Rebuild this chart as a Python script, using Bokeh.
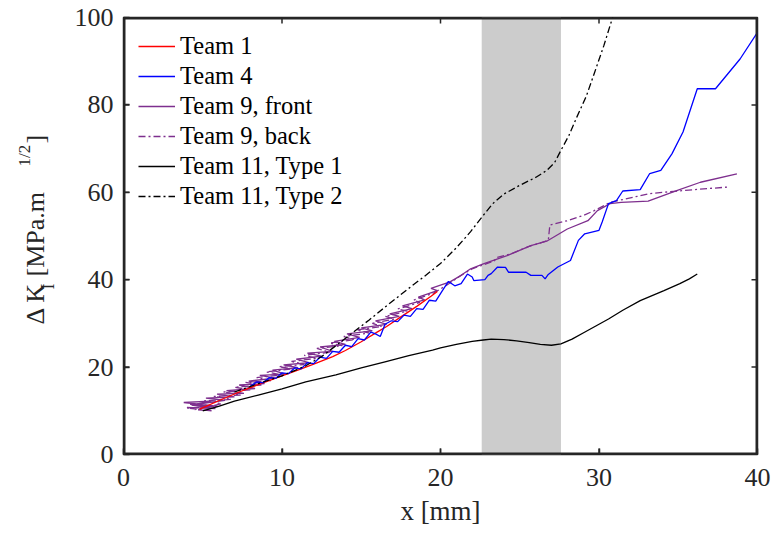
from bokeh.plotting import figure
from bokeh.layouts import row
from bokeh.models import Range1d, FixedTicker, Legend, LegendItem
from bokeh.core.properties import value
from bokeh.embed import file_html
from bokeh.resources import INLINE

# ---------------- data ----------------
x_ticks = [0, 10, 20, 30, 40]
y_ticks = [0, 20, 40, 60, 80, 100]
band_x = [22.6, 27.6]

team1_x = [4.8, 5.2, 6.0, 7.3, 8.5, 10.0, 11.0, 12.0, 13.2, 14.0, 15.0, 16.0, 16.6, 17.5, 18.5, 19.4, 19.8]
team1_y = [10.4, 11.0, 12.3, 14.3, 16.0, 18.0, 19.3, 20.7, 22.4, 23.8, 25.8, 28.0, 29.3, 31.5, 33.9, 36.2, 37.3]

team4_x = [8.0, 8.4, 8.8, 9.2, 9.6, 10.0, 10.4, 10.8, 11.2, 11.6, 12.0, 12.4, 12.8, 13.2, 13.6, 14.0,
           14.4, 14.8, 15.2, 15.6, 15.9, 16.2, 16.5, 16.9, 17.3, 17.7, 18.1, 18.5, 18.9, 19.3, 19.7,
           20.1, 20.5, 20.9, 21.3, 21.7, 22.0, 22.1, 22.8, 23.0, 23.2, 23.6, 24.1, 24.3, 25.4, 25.7,
           26.4, 26.6, 26.8, 27.4, 28.2, 28.7, 29.1, 30.0, 30.2, 30.6, 31.1, 31.5, 32.6, 33.2, 33.9,
           34.6, 35.3, 36.2, 37.35, 38.9, 40.0]
team4_y = [15.6, 16.6, 16.4, 17.6, 17.4, 18.7, 18.5, 19.8, 19.6, 21.0, 20.8, 22.3, 22.0, 23.6, 23.4, 25.0,
           24.7, 26.5, 26.2, 28.0, 27.6, 27.0, 29.8, 30.6, 30.4, 31.9, 31.6, 33.4, 33.2, 35.3, 35.1,
           37.4, 39.6, 38.6, 39.1, 41.3, 40.6, 39.8, 40.0, 41.0, 41.4, 42.9, 42.8, 41.7, 41.7, 41.0,
           41.0, 40.2, 41.2, 42.9, 44.4, 49.0, 50.5, 51.3, 53.2, 57.4, 58.1, 60.3, 60.6, 64.3, 65.0,
           68.8, 73.8, 83.7, 83.7, 90.5, 96.6]

team9f_x = [4.0, 5.8, 4.3, 6.0, 3.8, 5.5, 4.6, 6.4, 5.2, 7.0, 5.9, 7.6, 6.5, 8.3, 7.3, 8.9, 7.9, 9.6,
            8.6, 10.2, 9.4, 11.0, 10.1, 11.7, 10.9, 12.5, 11.6, 13.2, 12.4, 14.0, 13.3, 14.9, 14.1,
            15.7, 15.0, 16.6, 15.9, 17.4, 16.8, 18.2, 17.6, 19.0, 18.6, 19.8, 19.4, 20.6, 21.3, 21.9,
            22.7, 24.2, 25.7, 26.7, 28.0, 29.3, 29.9, 30.7, 31.4, 33.1, 34.9, 36.4, 38.7]
team9f_y = [10.8, 10.5, 11.3, 11.0, 11.9, 12.2, 11.5, 12.4, 12.9, 13.2, 13.8, 14.0, 14.6, 15.1, 15.9,
            16.2, 16.8, 17.5, 18.1, 18.4, 19.3, 19.9, 20.5, 21.0, 21.8, 22.5, 23.2, 23.6, 24.6, 25.2,
            25.9, 26.8, 27.6, 28.3, 29.0, 29.8, 30.6, 31.6, 32.2, 33.4, 34.0, 35.4, 36.0, 37.5, 38.0,
            39.5, 41.0, 42.5, 43.6, 45.5, 47.8, 48.8, 51.6, 53.5, 55.8, 57.4, 57.7, 58.0, 60.4, 62.3, 64.2]

team9b_x = [4.2, 5.9, 4.0, 5.6, 4.5, 6.2, 5.1, 6.8, 5.7, 7.4, 6.3, 8.0, 7.0, 8.7, 7.7, 9.3, 8.4, 10.0,
            9.0, 10.7, 9.8, 11.4, 10.6, 12.2, 11.4, 13.0, 12.2, 13.8, 13.0, 14.6, 13.9, 15.5, 14.7,
            16.3, 15.7, 17.1, 16.5, 17.9, 17.3, 18.7, 18.3, 19.6, 20.5, 21.3, 22.0, 23.4, 23.5, 24.5,
            25.5, 26.8, 26.9, 28.0, 29.0, 29.7, 30.7, 33.2, 35.3, 38.1]
team9b_y = [11.5, 11.0, 10.6, 10.0, 10.3, 11.6, 12.3, 12.6, 13.3, 13.6, 14.3, 14.8, 15.4, 15.9, 16.5,
            16.9, 17.6, 18.2, 18.9, 19.6, 20.1, 20.6, 21.3, 22.0, 22.7, 23.4, 24.3, 24.9, 25.5, 26.3,
            27.0, 27.8, 28.5, 29.3, 30.0, 31.0, 31.6, 32.8, 33.3, 34.8, 35.3, 37.0, 39.0, 41.0, 42.5,
            44.3, 45.0, 46.0, 47.5, 49.0, 52.5, 53.5, 54.7, 55.8, 57.7, 59.7, 60.4, 61.2]

team11a_x = [5.0, 6.0, 7.0, 8.5, 10.0, 11.5, 13.4, 15.0, 16.5, 18.0, 19.5, 20.0, 21.0, 22.0, 22.7, 23.2,
             24.0, 24.8, 25.6, 26.3, 27.0, 27.6, 28.3, 29.0, 29.8, 30.6, 31.5, 32.6, 33.5, 34.1, 35.1,
             35.7, 36.2]
team11a_y = [10.0, 11.0, 12.2, 13.6, 15.0, 16.6, 18.2, 19.8, 21.2, 22.6, 23.9, 24.4, 25.2, 25.9, 26.2,
             26.4, 26.3, 26.0, 25.6, 25.2, 25.0, 25.3, 26.4, 27.8, 29.4, 31.0, 33.0, 35.2, 36.6, 37.5,
             39.1, 40.2, 41.3]

team11b_x = [7.0, 8.5, 10.0, 11.5, 12.5, 13.4, 14.3, 15.5, 16.8, 18.2, 19.0, 20.0, 21.0, 21.9, 22.65,
             23.3, 24.0, 25.0, 26.0, 26.7, 27.2, 27.6, 28.1, 28.6, 29.2, 29.7, 30.3, 30.9]
team11b_y = [14.3, 16.2, 18.0, 20.3, 22.4, 24.9, 27.4, 30.8, 34.6, 38.6, 40.8, 43.7, 47.3, 51.0, 54.5,
             57.4, 59.6, 61.6, 63.4, 65.0, 66.8, 69.6, 73.0, 77.2, 82.0, 87.2, 93.5, 100.5]

series_names = ["Team 1", "Team 4", "Team 9, front", "Team 9, back", "Team 11, Type 1", "Team 11, Type 2"]

# y-axis title pieces -- the label uses a subscript and a superscript
ylabel_parts = ["\u0394 K", "I", "[MPa.m", "1/2", "]"]

# ---------------- style / layout ----------------
FONT = "Liberation Serif"
AX = "#262626"
PURPLE = "#7E2F8E"
DASHDOT = "7 3 2 3"
W, H = 772, 533
LABW = 70                      # strip carrying the rotated y-axis title
BL, BR, BT, BB = 123, 15, 17, 79  # frame borders in page pixels
TICK = 6                       # inward tick length, px

p = figure(width=W - LABW, height=H, output_backend="svg", toolbar_location=None,
           x_range=Range1d(x_ticks[0], x_ticks[-1]), y_range=Range1d(y_ticks[0], y_ticks[-1]),
           min_border_left=BL - LABW, min_border_right=BR, min_border_top=BT, min_border_bottom=BB)
p.grid.visible = False
p.outline_line_color = AX
p.outline_line_width = 1.5
p.background_fill_color = "white"
p.border_fill_color = "white"


def style_axis(ax, ticks):
    ax.ticker = FixedTicker(ticks=ticks)
    ax.major_tick_in = TICK
    ax.major_tick_out = 0
    ax.minor_tick_line_color = None
    ax.axis_line_color = None
    ax.major_tick_line_color = AX
    ax.major_tick_line_width = 1.5
    ax.major_label_text_font = FONT
    ax.major_label_text_font_size = "26px"
    ax.major_label_text_color = AX


xb = p.below[0]
style_axis(xb, x_ticks)
xb.major_label_standoff = 14
xb.axis_label = "x [mm]"
xb.axis_label_text_font = FONT
xb.axis_label_text_font_size = "27px"
xb.axis_label_text_font_style = "normal"
xb.axis_label_text_color = AX
xb.axis_label_standoff = 7

yl = p.left[0]
style_axis(yl, y_ticks)
yl.major_label_standoff = 10

# shaded band
p.quad(left=[band_x[0]], right=[band_x[1]], bottom=[y_ticks[0]], top=[y_ticks[-1]],
       fill_color="#CCCCCC", line_color=None)

LW = 1.3
r9f = p.line(team9f_x, team9f_y, line_color=PURPLE, line_width=LW)
r9b = p.line(team9b_x, team9b_y, line_color=PURPLE, line_width=LW, line_dash=DASHDOT)
r1 = p.line(team1_x, team1_y, line_color="#FF0000", line_width=LW)
r4 = p.line(team4_x, team4_y, line_color="#0000FF", line_width=LW)
r11a = p.line(team11a_x, team11a_y, line_color="black", line_width=LW)
r11b = p.line(team11b_x, team11b_y, line_color="black", line_width=LW, line_dash=DASHDOT)

# MATLAB-style box with inward ticks on all four sides (drawn as glyphs on top)
x0, x1 = x_ticks[0], x_ticks[-1]
y0, y1 = y_ticks[0], y_ticks[-1]
tx = TICK * (x1 - x0) / (W - BL - BR)   # tick length in x data units
ty = TICK * (y1 - y0) / (H - BT - BB)   # tick length in y data units
p.quad(left=[x0], right=[x1], bottom=[y0], top=[y1], fill_color=None,
       line_color=AX, line_width=4)
p.segment(x0=x_ticks, x1=x_ticks, y0=[y0] * len(x_ticks), y1=[y0 + ty] * len(x_ticks),
          line_color=AX, line_width=1.5)
p.segment(x0=x_ticks, x1=x_ticks, y0=[y1] * len(x_ticks), y1=[y1 - ty] * len(x_ticks),
          line_color=AX, line_width=1.5)
p.segment(x0=[x0] * len(y_ticks), x1=[x0 + tx] * len(y_ticks), y0=y_ticks, y1=y_ticks,
          line_color=AX, line_width=1.5)
p.segment(x0=[x1] * len(y_ticks), x1=[x1 - tx] * len(y_ticks), y0=y_ticks, y1=y_ticks,
          line_color=AX, line_width=1.5)

legend = Legend(items=[LegendItem(label=n, renderers=[r]) for n, r in
                       zip(series_names, [r1, r4, r9f, r9b, r11a, r11b])],
                location="top_left", border_line_color=None, background_fill_alpha=0,
                label_text_font=FONT, label_text_font_size="24.5px", label_text_color="black",
                glyph_width=37, glyph_height=20, label_standoff=5, spacing=2,
                padding=0, margin=15)
p.add_layout(legend)

# ---- strip on the left holding the rotated y-axis title (pixel space) ----
# its frame is aligned with the main frame, so map y to "pixels from page bottom"
lab = figure(width=LABW, height=H, output_backend="svg", toolbar_location=None,
             x_range=Range1d(0, LABW), y_range=Range1d(BB, H - BT),
             x_axis_type=None, y_axis_type=None,
             min_border_left=0, min_border_right=0, min_border_top=BT, min_border_bottom=BB)
lab.grid.visible = False
lab.outline_line_color = None
lab.background_fill_color = "white"
lab.border_fill_color = "white"

ANG = 1.5707963267948966
piece_x = [35, 47, 35, 24, 35]          # baseline x (px)
piece_y = [209, 244, 257, 367, 390]     # text start, px above page bottom
piece_size = ["26px", "18px", "26px", "17px", "26px"]
for t, xx, yy, sz in zip(ylabel_parts, piece_x, piece_y, piece_size):
    lab.text(x=[xx], y=[yy], text=[t], angle=ANG, text_font=value(FONT), text_font_size=sz,
             text_color=AX, text_align="left", text_baseline="alphabetic")

layout = row(lab, p, spacing=0)
open("out.html", "w").write(file_html(layout, INLINE))
